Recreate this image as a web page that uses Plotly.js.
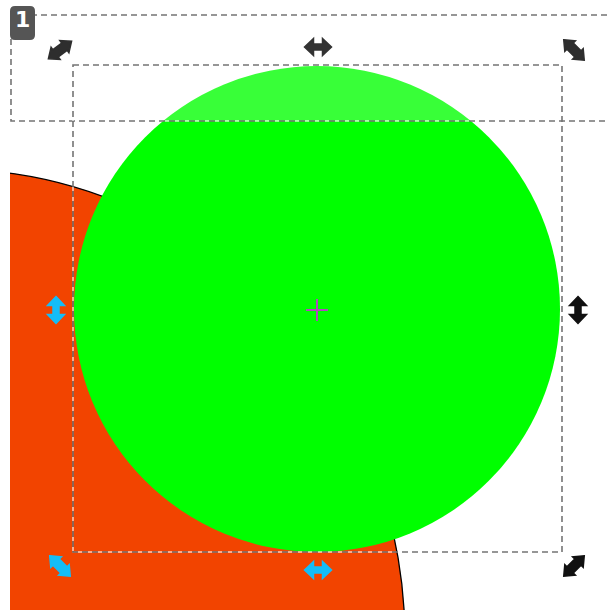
<!DOCTYPE html>
<html>
<head>
<meta charset="utf-8">
<script src="https://cdn.plot.ly/plotly-3.0.1.min.js"></script>
<style>html,body{margin:0;padding:0;background:#fff;}#chart{width:609px;height:610px;}</style>
</head>
<body>
<div id="chart"></div>
<script>
// Ellipses (objects on the canvas)
const objectNames   = ['orange', 'green'];
const objectCenterX = [-50, 317];
const objectCenterY = [640, 309];
const objectRadiusX = [455, 243];
const objectRadiusY = [471, 243];
const objectFill    = ['#f24400', '#00ff00'];
const objectOutline = ['#000000', 'rgba(0,0,0,0)'];

// Dashed selection boxes [x0, y0, x1, y1]
const boxX0 = [11, 73];
const boxY0 = [15, 65];
const boxX1 = [615, 562];
const boxY1 = [121, 552];

// Handles
const handleX     = [60, 318, 574, 56, 578, 60, 318, 574];
const handleY     = [50, 47, 50, 310, 310, 566, 570, 566];
const handleAngle = [-37, 0, 45, 90, 90, 45, 0, -45];
const handleKind  = ['corner', 'side', 'corner', 'side', 'side', 'corner', 'side', 'corner'];
const handleColor = ['#2e2e2e', '#333333', '#2e2e2e', '#14bdf8', '#111111', '#14bdf8', '#14bdf8', '#111111'];

// Crosshair (rotation centre)
const centerMark = [317, 310];
const centerArm = 11;

// Badge
const badgeText = '1';

const shapes = [];

for (let i = 0; i < objectNames.length; i++) {
  shapes.push({
    type: 'circle', xref: 'x', yref: 'y', layer: 'above',
    x0: objectCenterX[i] - objectRadiusX[i], x1: objectCenterX[i] + objectRadiusX[i],
    y0: objectCenterY[i] - objectRadiusY[i], y1: objectCenterY[i] + objectRadiusY[i],
    fillcolor: objectFill[i],
    line: {color: objectOutline[i], width: i === 0 ? 1.3 : 0}
  });
}
shapes.push({type: 'rect', xref: 'x', yref: 'y', layer: 'above', x0: 0, x1: 10, y0: 0, y1: 610,
  fillcolor: '#ffffff', line: {width: 0}});
shapes.push({type: 'rect', xref: 'x', yref: 'y', layer: 'above', x0: boxX0[0], x1: boxX1[0], y0: boxY0[0], y1: boxY1[0],
  fillcolor: 'rgba(255,255,255,0.22)', line: {width: 0}});

for (let i = 0; i < boxX0.length; i++) {
  shapes.push({type: 'rect', xref: 'x', yref: 'y', layer: 'above',
    x0: boxX0[i], x1: boxX1[i], y0: boxY0[i], y1: boxY1[i],
    fillcolor: 'rgba(0,0,0,0)', line: {color: 'rgba(255,255,255,0.75)', width: 1.5}});
  shapes.push({type: 'rect', xref: 'x', yref: 'y', layer: 'above',
    x0: boxX0[i], x1: boxX1[i], y0: boxY0[i], y1: boxY1[i],
    fillcolor: 'rgba(0,0,0,0)', line: {color: 'rgba(30,30,30,0.62)', width: 1.6, dash: '6px,4px'}});
}

shapes.push({type: 'line', xref: 'x', yref: 'y', layer: 'above',
  x0: centerMark[0] - centerArm, x1: centerMark[0] + centerArm, y0: centerMark[1], y1: centerMark[1],
  line: {color: '#b048c0', width: 2}});
shapes.push({type: 'line', xref: 'x', yref: 'y', layer: 'above',
  x0: centerMark[0], x1: centerMark[0], y0: centerMark[1] - centerArm, y1: centerMark[1] + centerArm,
  line: {color: '#b048c0', width: 2}});

function arrowPath(cx, cy, ang, kind) {
  const L = kind === 'side' ? 27 : 29;
  const W = kind === 'side' ? 17 : 15;
  const h = 9;
  const b = kind === 'side' ? 6 : 9;
  const pts = [
    [-L/2, 0], [-L/2 + h, -W/2], [-L/2 + h, -b/2], [L/2 - h, -b/2], [L/2 - h, -W/2],
    [L/2, 0], [L/2 - h, W/2], [L/2 - h, b/2], [-L/2 + h, b/2], [-L/2 + h, W/2]
  ];
  const a = ang * Math.PI / 180, c = Math.cos(a), s = Math.sin(a);
  return pts.map((p, k) => (k === 0 ? 'M' : 'L') + (cx + p[0]*c - p[1]*s).toFixed(2) + ',' + (cy + p[0]*s + p[1]*c).toFixed(2)).join(' ') + ' Z';
}
for (let i = 0; i < handleX.length; i++) {
  shapes.push({type: 'path', xref: 'x', yref: 'y', layer: 'above',
    path: arrowPath(handleX[i], handleY[i], handleAngle[i], handleKind[i]),
    fillcolor: handleColor[i], line: {color: handleColor[i], width: 1.5}});
}

shapes.push({type: 'path', xref: 'x', yref: 'y', layer: 'above',
  path: 'M15,6 L30,6 Q35,6 35,11 L35,35 Q35,40 30,40 L15,40 Q10,40 10,35 L10,11 Q10,6 15,6 Z',
  fillcolor: '#555555', line: {width: 0}});

const layout = {
  width: 609, height: 610,
  margin: {l: 0, r: 0, t: 0, b: 0, pad: 0},
  paper_bgcolor: '#ffffff', plot_bgcolor: '#ffffff',
  showlegend: false,
  xaxis: {range: [0, 609], visible: false, fixedrange: true},
  yaxis: {range: [610, 0], visible: false, fixedrange: true},
  shapes: shapes,
  annotations: [{
    x: 22.5, y: 19, xref: 'x', yref: 'y', text: '<b>' + badgeText + '</b>', showarrow: false,
    font: {family: 'DejaVu Sans', size: 22, color: '#ffffff'}, xanchor: 'center', yanchor: 'middle'
  }]
};

Plotly.newPlot('chart', [{x: objectCenterX, y: objectCenterY, mode: 'markers', marker: {opacity: 0}, hoverinfo: 'skip', type: 'scatter'}],
  layout, {staticPlot: true, displayModeBar: false});
</script>
</body>
</html>
